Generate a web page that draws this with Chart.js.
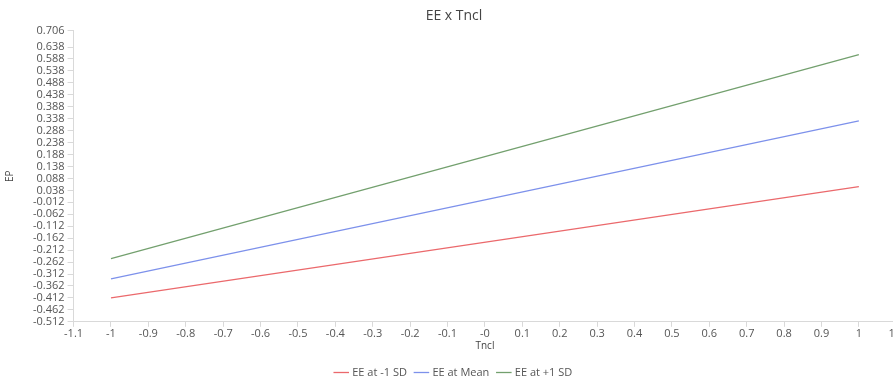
<!DOCTYPE html>
<html>
<head>
<meta charset="utf-8">
<script src="https://cdn.jsdelivr.net/npm/chart.js@4"></script>
<style>
  html, body { margin: 0; padding: 0; background: #fff; overflow: hidden; }
  #wrap { width: 904px; height: 388px; }
</style>
</head>
<body>
<div id="wrap"><canvas id="chart"></canvas></div>
<script>
// Data
const tnclValues = [-1, 1];
const eeLow = [-0.412, 0.054];   // EE at -1 SD
const eeMean = [-0.332, 0.329];  // EE at Mean
const eeHigh = [-0.248, 0.606];  // EE at +1 SD

const xTicks = [-1.1, -1, -0.9, -0.8, -0.7, -0.6, -0.5, -0.4, -0.3, -0.2, -0.1, 0,
  0.1, 0.2, 0.3, 0.4, 0.5, 0.6, 0.7, 0.8, 0.9, 1, 1.1];
const yTicks = [-0.512, -0.462, -0.412, -0.362, -0.312, -0.262, -0.212, -0.162, -0.112,
  -0.062, -0.012, 0.038, 0.088, 0.138, 0.188, 0.238, 0.288, 0.338, 0.388, 0.438,
  0.488, 0.538, 0.588, 0.638, 0.706];

const toPoints = (ys) => tnclValues.map((x, i) => ({ x, y: ys[i] }));

const textColor = '#555';
const axisColor = '#d9d9d9';
const fontFamily = '"Open Sans", "Noto Sans", sans-serif';

const ctx = document.getElementById('chart').getContext('2d');
new Chart(ctx, {
  type: 'line',
  data: {
    datasets: [
      { label: 'EE at -1 SD', data: toPoints(eeLow), borderColor: 'rgb(235, 105, 108)', backgroundColor: 'rgb(235, 105, 108)' },
      { label: 'EE at Mean', data: toPoints(eeMean), borderColor: 'rgb(125, 145, 235)', backgroundColor: 'rgb(125, 145, 235)' },
      { label: 'EE at +1 SD', data: toPoints(eeHigh), borderColor: 'rgb(115, 160, 110)', backgroundColor: 'rgb(115, 160, 110)' }
    ].map(d => Object.assign(d, { borderWidth: 1.3, pointRadius: 0, fill: false, tension: 0 }))
  },
  options: {
    responsive: true,
    maintainAspectRatio: false,
    animation: false,
    layout: { padding: { left: 4, right: 0, top: 2, bottom: 0 } },
    plugins: {
      title: {
        display: true,
        text: 'EE x Tncl',
        color: '#444',
        font: { family: fontFamily, size: 14, weight: 'normal' },
        padding: { top: 6, bottom: 6 }
      },
      legend: {
        position: 'bottom',
        labels: {
          color: textColor,
          font: { family: fontFamily, size: 11 },
          usePointStyle: true,
          pointStyle: 'line',
          boxWidth: 16,
          padding: 9
        }
      },
      tooltip: { enabled: false }
    },
    scales: {
      x: {
        type: 'linear',
        min: -1.1,
        max: 1.1,
        afterBuildTicks: (axis) => { axis.ticks = xTicks.map(v => ({ value: v })); },
        ticks: {
          color: textColor,
          font: { family: fontFamily, size: 11 },
          autoSkip: false,
          maxRotation: 0,
          padding: 0,
          callback: (v) => String(Math.round(v * 10) / 10 === 0 ? '-0' : Math.round(v * 10) / 10)
        },
        grid: { drawOnChartArea: false, color: axisColor, tickLength: 5 },
        border: { color: axisColor },
        title: {
          display: true,
          text: 'Tncl',
          color: '#444',
          font: { family: fontFamily, size: 10 },
          padding: { top: 0, bottom: 6 }
        }
      },
      y: {
        type: 'linear',
        min: -0.512,
        max: 0.706,
        afterBuildTicks: (axis) => { axis.ticks = yTicks.map(v => ({ value: v })); },
        ticks: {
          color: textColor,
          font: { family: fontFamily, size: 11 },
          autoSkip: false,
          padding: 3,
          callback: (v) => v.toFixed(3)
        },
        grid: { drawOnChartArea: false, color: axisColor, tickLength: 6 },
        border: { color: axisColor },
        title: {
          display: true,
          text: 'EP',
          color: '#444',
          font: { family: fontFamily, size: 10 },
          padding: { top: 0, bottom: 14 }
        }
      }
    }
  }
});
</script>
</body>
</html>
